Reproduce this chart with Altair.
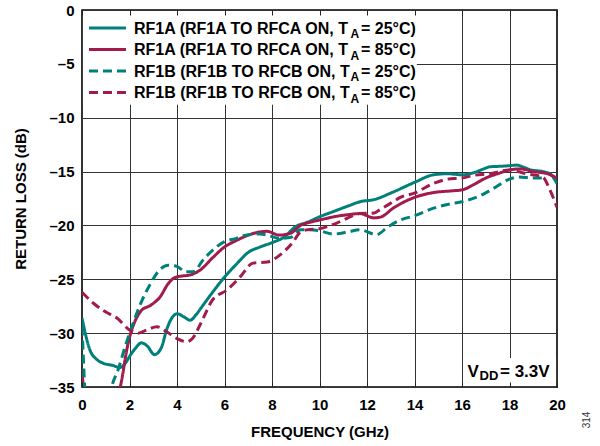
import altair as alt
import pandas as pd

# ---------------- data ----------------
SERIES = ["A25", "A85", "B25", "B85"]
COLORS = ["#00807a", "#a31a4c", "#00807a", "#a31a4c"]
DASHES = [[1, 0], [1, 0], [9, 5], [9, 5]]

LEG_MAIN = ["RF1A (RF1A TO RFCA ON, T", "RF1A (RF1A TO RFCA ON, T",
            "RF1B (RF1B TO RFCB ON, T", "RF1B (RF1B TO RFCB ON, T"]
LEG_SUB = ["A", "A", "A", "A"]
LEG_END = [" = 25°C)", " = 85°C)", " = 25°C)", " = 85°C)"]

X_TICKS = [0, 2, 4, 6, 8, 10, 12, 14, 16, 18, 20]
Y_TICKS = [-35, -30, -25, -20, -15, -10, -5, 0]

# RF1A, 25 C (solid teal)
a25_f = [0, 0.34, 0.6, 0.9, 1.3, 1.6, 1.82, 2.05, 2.25, 2.5, 2.75, 3.05, 3.35, 3.56, 3.78, 4.0,
         4.3, 4.55, 4.8, 5.0, 5.5, 6.0, 6.5, 7.0, 7.5, 8.0, 8.5, 9.0, 9.5, 10.0, 10.6, 11.2,
         11.7, 12.3, 13.1, 14.0, 14.8, 15.4, 16.0, 16.5, 16.8, 17.2, 17.7, 18.0, 18.3, 18.6,
         18.9, 19.4, 19.7, 20.0]
a25_db = [-28.6, -31.6, -32.4, -32.8, -33.0, -33.2, -32.8, -32.0, -31.4, -30.9, -31.2, -32.0,
          -31.3, -29.7, -28.6, -28.2, -28.5, -28.8, -28.3, -27.7, -26.2, -24.8, -23.6, -22.5,
          -22.0, -21.6, -21.1, -20.1, -19.7, -19.2, -18.7, -18.2, -17.8, -17.6, -16.9, -16.0,
          -15.3, -15.2, -15.3, -15.1, -14.85, -14.55, -14.5, -14.45, -14.4, -14.6, -14.85,
          -15.0, -15.2, -16.1]

# RF1A, 85 C (solid maroon) - short piece at the left edge, then main curve
a85_f0 = [0, 0.05, 0.1]
a85_db0 = [-33.6, -34.8, -36.0]
a85_f = [1.52, 1.7, 1.88, 2.05, 2.23, 2.5, 2.9, 3.3, 3.6, 3.9, 4.2, 4.55, 5.0, 5.5, 6.0, 6.5,
         7.0, 7.5, 7.8, 8.3, 8.8, 9.2, 9.6, 10.0, 10.6, 11.2, 11.7, 12.3, 12.6, 13.1, 14.0,
         14.8, 15.5, 16.0, 16.5, 17.0, 17.5, 18.0, 18.45, 19.0, 19.6, 20.0]
a85_db = [-36.0, -34.0, -31.6, -30.0, -28.9, -27.9, -27.4, -26.6, -25.5, -24.85, -24.7, -24.6,
          -24.1, -23.0, -22.0, -21.4, -20.9, -20.6, -20.55, -20.9, -20.7, -20.0, -19.7, -19.5,
          -19.2, -19.0, -18.9, -19.3, -19.2, -18.4, -17.4, -16.95, -16.8, -16.7, -16.2, -15.6,
          -15.2, -14.85, -14.75, -15.0, -15.2, -15.6]

# RF1B, 25 C (dashed teal) - short piece at the left edge, then main curve
b25_f0 = [0, 0.06, 0.13]
b25_db0 = [-29.4, -32.4, -36.0]
b25_f = [1.15, 1.25, 1.52, 1.81, 2.15, 2.5, 2.86, 3.28, 3.63, 4.0, 4.35, 4.68, 5.1, 5.6, 6.0,
         6.5, 6.9, 7.5, 7.8, 8.3, 8.8, 9.2, 9.6, 10.0, 10.6, 11.2, 11.7, 12.4, 12.9, 13.4, 14.0,
         14.8, 15.5, 16.0, 16.8, 17.3, 18.0, 18.4, 19.0, 19.5]
b25_db = [-36.0, -35.0, -33.4, -31.3, -29.1, -27.1, -25.5, -24.1, -23.7, -23.8, -24.3, -24.3,
          -23.2, -22.1, -21.5, -21.2, -20.9, -20.8, -20.9, -21.2, -21.1, -20.4, -20.4, -20.5,
          -20.8, -20.6, -20.4, -20.85, -20.1, -19.5, -19.1, -18.4, -18.0, -17.8, -17.2, -16.6,
          -15.7, -15.5, -15.6, -15.6]

# RF1B, 85 C (dashed maroon)
b85_f = [0, 0.47, 0.97, 1.47, 2.0, 2.36, 2.73, 3.15, 3.58, 4.0, 4.4, 4.65, 5.0, 5.5, 6.1, 6.65,
         7.2, 7.8, 8.3, 8.9, 9.2, 9.5, 10.0, 10.7, 11.2, 11.7, 12.3, 12.5, 13.1, 13.4, 14.0,
         14.8, 15.4, 16.0, 16.5, 17.2, 18.0, 18.7, 19.4, 19.7, 20.0]
b85_db = [-26.2, -27.2, -28.0, -28.6, -29.7, -30.0, -29.7, -29.4, -29.9, -30.5, -30.8, -30.5,
          -29.1, -26.9, -26.0, -24.8, -23.5, -23.4, -22.8, -21.5, -20.6, -20.4, -20.3, -19.8,
          -19.3, -18.9, -18.85, -18.6, -17.8, -17.4, -17.0, -16.1, -15.7, -15.6, -15.35, -15.2,
          -14.85, -15.2, -15.5, -16.7, -18.3]

# ---------------- tables ----------------
rows = []
for key, seg, fs, ds in [("A25", "s0", a25_f, a25_db),
                         ("A85", "s0", a85_f0, a85_db0), ("A85", "s1", a85_f, a85_db),
                         ("B25", "s0", b25_f0, b25_db0), ("B25", "s1", b25_f, b25_db),
                         ("B85", "s0", b85_f, b85_db)]:
    for f, d in zip(fs, ds):
        rows.append({"series": key, "seg": key + seg, "f": f, "db": d})
df = pd.DataFrame(rows)

XMIN, XMAX, YMIN, YMAX = 0, 20, -35, 0
FONT = "Liberation Sans"

color_scale = alt.Scale(domain=SERIES, range=COLORS)
dash_scale = alt.Scale(domain=SERIES, range=DASHES)
xs = alt.Scale(domain=[XMIN, XMAX], nice=False, zero=False)
ys = alt.Scale(domain=[YMIN, YMAX], nice=False, zero=False)

x_axis = alt.Axis(orient="bottom", values=X_TICKS, grid=True, gridColor="#333333",
                  gridWidth=1, ticks=False, tickSize=0, domain=False, labelFont=FONT,
                  labelFontSize=15, labelFontWeight="bold", labelColor="black",
                  labelPadding=10, labelFlush=False, labelOverlap=False,
                  title="FREQUENCY (GHz)", titleFont=FONT, titleFontSize=15,
                  titleFontWeight="bold", titleColor="black", titleY=44,
                  titleBaseline="middle")
y_axis = alt.Axis(orient="left", values=Y_TICKS, grid=True, gridColor="#333333",
                  gridWidth=1, ticks=False, tickSize=0, domain=False, labelFont=FONT,
                  labelFontSize=15, labelFontWeight="bold", labelColor="black",
                  labelPadding=8, labelOverlap=False,
                  labelExpr="datum.value == 0 ? '0' : '\u2013' + abs(datum.value)",
                  title="RETURN LOSS (dB)", titleFont=FONT, titleFontSize=15,
                  titleFontWeight="bold", titleColor="black", titleX=-62,
                  titleBaseline="middle")

lines = alt.Chart(df).mark_line(clip=True, strokeWidth=3, interpolate="monotone",
                                strokeCap="butt").encode(
    x=alt.X("f:Q", scale=xs, axis=x_axis),
    y=alt.Y("db:Q", scale=ys, axis=y_axis),
    color=alt.Color("series:N", scale=color_scale, legend=None),
    strokeDash=alt.StrokeDash("series:N", scale=dash_scale, legend=None),
    detail="seg:N",
)

# white boxes behind the legend and the supply note (inset a hair from the frame)
boxes_df = pd.DataFrame({"x": [XMIN + 0.04, 16.05], "x2": [14.1, XMAX - 0.04],
                         "y": [-8.8, YMIN + 0.09], "y2": [YMAX - 0.09, -32.3]})
boxes = alt.Chart(boxes_df).mark_rect(fill="white").encode(
    x=alt.X("x:Q", scale=xs, axis=alt.Axis(orient="bottom", offset=-5, values=X_TICKS,
                                           labels=False, domain=False, grid=False,
                                           ticks=True, tickSize=5, tickColor="#222",
                                           tickWidth=1, title=None, zindex=1)),
    x2="x2:Q",
    y=alt.Y("y:Q", scale=ys, axis=None),
    y2="y2:Q",
)

tick_df = pd.DataFrame({"x": [XMIN]})
top_ticks = alt.Chart(tick_df).mark_point(opacity=0).encode(
    x=alt.X("x:Q", scale=xs, axis=alt.Axis(orient="top", offset=-5, values=X_TICKS,
                                           labels=False, domain=False, grid=False,
                                           ticks=True, tickSize=5, tickColor="#222",
                                           tickWidth=1, title=None, zindex=1)),
)

# custom legend (with subscripts)
LEG_Y0, LEG_DY = 18, 21.5
leg_df = pd.DataFrame({
    "series": SERIES,
    "main": LEG_MAIN,
    "sub": LEG_SUB,
    "end": LEG_END,
    "ly": [LEG_Y0 + LEG_DY * i for i in range(4)],
})
leg_df["lyb"] = leg_df["ly"] + 5.7
leg_df["lys"] = leg_df["ly"] + 10

leg_lines = alt.Chart(leg_df).mark_rule(strokeWidth=3, strokeCap="butt").encode(
    x=alt.value(7), x2=alt.value(44),
    y=alt.Y("ly:Q", scale=None),
    color=alt.Color("series:N", scale=color_scale, legend=None),
    strokeDash=alt.StrokeDash("series:N", scale=dash_scale, legend=None),
)
txt = dict(font=FONT, fontWeight="bold", color="black", align="left", baseline="alphabetic")
leg_main = alt.Chart(leg_df).mark_text(fontSize=16, **txt).encode(
    x=alt.value(52), y=alt.Y("lyb:Q", scale=None), text="main:N")
leg_sub = alt.Chart(leg_df).mark_text(fontSize=12, **txt).encode(
    x=alt.value(268.5), y=alt.Y("lys:Q", scale=None), text="sub:N")
leg_end = alt.Chart(leg_df).mark_text(fontSize=16, **txt).encode(
    x=alt.value(279), y=alt.Y("lyb:Q", scale=None), text="end:N")

note_df = pd.DataFrame({"a": ["V"], "b": ["DD"], "c": [" = 3.3V"]})
note_a = alt.Chart(note_df).mark_text(fontSize=17, **txt).encode(
    x=alt.value(385.5), y=alt.value(366.5), text="a:N")
note_b = alt.Chart(note_df).mark_text(fontSize=13, **txt).encode(
    x=alt.value(397.5), y=alt.value(370), text="b:N")
note_c = alt.Chart(note_df).mark_text(fontSize=17, **txt).encode(
    x=alt.value(418), y=alt.value(366.5), text="c:N")

fig_df = pd.DataFrame({"t": ["314"]})
fig_id = alt.Chart(fig_df).mark_text(font=FONT, fontSize=10, color="#333", angle=270,
                                     align="center", baseline="middle").encode(
    x=alt.value(505), y=alt.value(410), text="t:N")

chart = alt.layer(
    lines, boxes, top_ticks, leg_lines, leg_main, leg_sub, leg_end,
    note_a, note_b, note_c, fig_id,
).resolve_axis(x="independent", y="independent").properties(
    width=475, height=377,
    autosize=alt.AutoSizeParams(type="none"),
    padding={"left": 82, "top": 10, "right": 43, "bottom": 59},
    background="white",
).configure_view(stroke="black", strokeWidth=1.6)

chart.save("out.html", embed_options={"renderer": "svg", "actions": False})
